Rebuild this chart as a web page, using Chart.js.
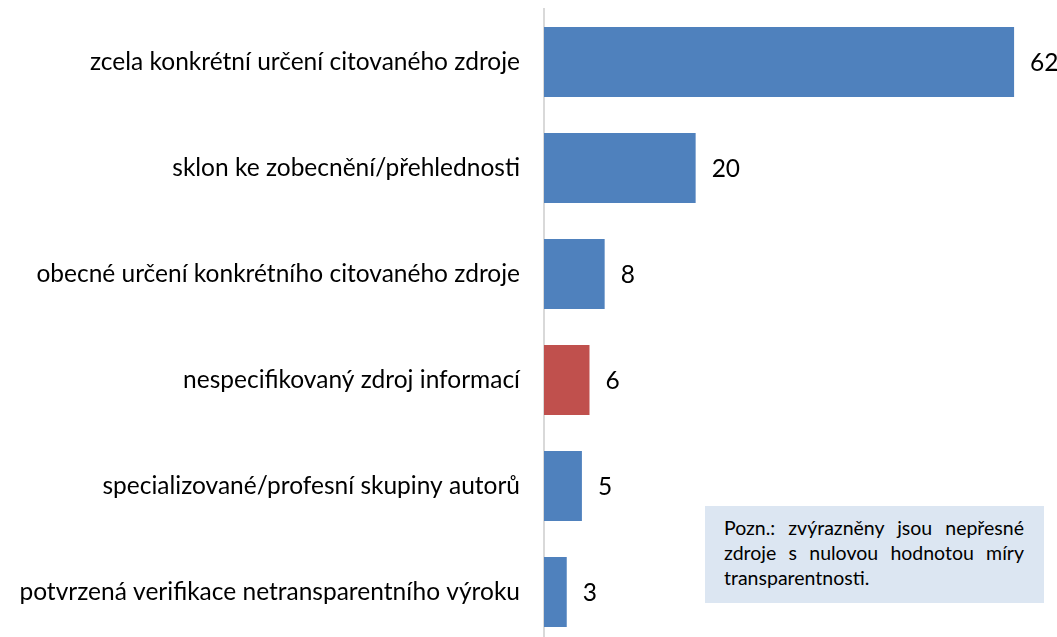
<!DOCTYPE html>
<html>
<head>
<meta charset="utf-8">
<script src="https://cdn.jsdelivr.net/npm/chart.js@4"></script>
<style>
  html, body { margin: 0; padding: 0; background: #fff; overflow: hidden; }
  #wrap { position: relative; width: 1057px; height: 645px; }
  #note {
    position: absolute; left: 705px; top: 506px; width: 339px; height: 97px;
    box-sizing: border-box; padding: 9px 20px 0 19px;
    background: #dce6f2; color: #000;
    font-family: Lato, sans-serif; font-size: 19.5px; line-height: 25px;
  }
  #note div { text-align: justify; text-align-last: justify; white-space: nowrap; }
  #note div.last { text-align-last: left; }
</style>
</head>
<body>
<div id="wrap">
  <canvas id="chart" width="1057" height="645"></canvas>
  <div id="note">
    <div>Pozn.: zvýrazněny jsou nepřesné</div>
    <div>zdroje s nulovou hodnotou míry</div>
    <div class="last">transparentnosti.</div>
  </div>
</div>
<script>
const labels = [
  "zcela konkrétní určení citovaného zdroje",
  "sklon ke zobecnění/přehlednosti",
  "obecné určení konkrétního citovaného zdroje",
  "nespecifikovaný zdroj informací",
  "specializované/profesní skupiny autorů",
  "potvrzená verifikace netransparentního výroku"
];
const values = [62, 20, 8, 6, 5, 3];
const highlighted = [false, false, false, true, false, false];

const FONT = "Lato";
const FONT_SIZE = 24.5;

const valueLabels = {
  id: "valueLabels",
  afterDatasetsDraw(chart) {
    const ctx = chart.ctx;
    const meta = chart.getDatasetMeta(0);
    ctx.save();
    ctx.font = FONT_SIZE + "px " + FONT;
    ctx.fillStyle = "#000";
    ctx.textBaseline = "middle";
    ctx.textAlign = "left";
    meta.data.forEach((bar, i) => {
      ctx.fillText(String(values[i]), bar.x + 16, bar.y + 1);
    });
    ctx.restore();
  }
};

function main() {
  new Chart(document.getElementById("chart"), {
    type: "bar",
    data: {
      labels,
      datasets: [{
        data: values,
        backgroundColor: highlighted.map((h) => (h ? "#c0504d" : "#4f81bd")),
        barPercentage: 0.66,
        categoryPercentage: 1
      }]
    },
    options: {
      indexAxis: "y",
      responsive: false,
      animation: false,
      layout: { padding: { top: 9, right: 5, left: 0, bottom: 0 } },
      plugins: { legend: { display: false }, tooltip: { enabled: false } },
      scales: {
        x: {
          min: 0,
          max: 67,
          display: false
        },
        y: {
          grid: { display: false, drawTicks: false },
          border: { display: true, color: "#d9d9d9", width: 2 },
          ticks: {
            color: "#000",
            padding: 24,
            font: { family: FONT, size: FONT_SIZE }
          },
          afterFit(scale) {
            scale.width = 544;
            scale.paddingTop = 0;
            scale.paddingBottom = 0;
          }
        }
      }
    },
    plugins: [valueLabels]
  });
}

document.addEventListener("DOMContentLoaded", () => main());
</script>
</body>
</html>
